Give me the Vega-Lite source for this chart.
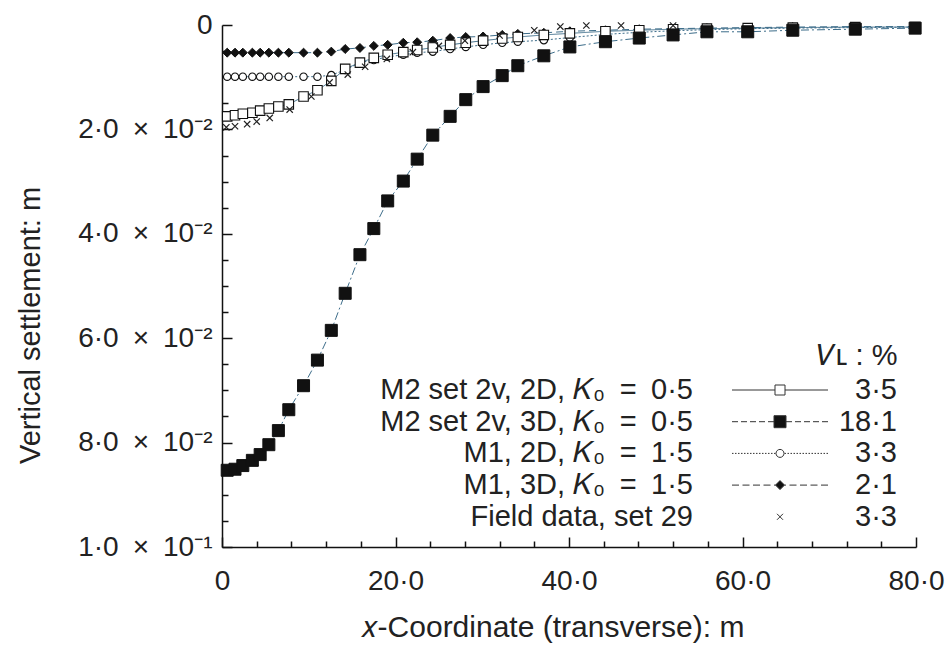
{
  "$schema": "https://vega.github.io/schema/vega-lite/v6.json",
  "width": 694,
  "height": 522,
  "autosize": {"type": "none"},
  "padding": {"left": 222, "top": 25, "right": 32, "bottom": 99},
  "background": "white",
  "config": {
    "view": {"stroke": null},
    "font": "Liberation Sans",
    "axis": {
      "grid": false,
      "domainColor": "#111",
      "domainWidth": 1.5,
      "tickColor": "#111",
      "tickWidth": 1.5,
      "labelFont": "Liberation Sans",
      "labelFontSize": 28,
      "labelColor": "#222",
      "labelFlush": false,
      "labelOverlap": false,
      "titleFont": "Liberation Sans",
      "titleFontSize": 30,
      "titleFontWeight": "normal",
      "titleColor": "#222"
    }
  },
  "resolve": {"axis": {"x": "independent", "y": "independent"}},
  "datasets": {
    "main": [
      {"series": "M2 3D", "x": 0.6, "y": 0.0853}, {"series": "M2 3D", "x": 1.5, "y": 0.0851}, {"series": "M2 3D", "x": 2.4, "y": 0.0844}, {"series": "M2 3D", "x": 3.5, "y": 0.0834}, {"series": "M2 3D", "x": 4.4, "y": 0.0823}, {"series": "M2 3D", "x": 5.4, "y": 0.0804}, {"series": "M2 3D", "x": 6.5, "y": 0.0777}, {"series": "M2 3D", "x": 7.7, "y": 0.0737}, {"series": "M2 3D", "x": 9.4, "y": 0.0691}, {"series": "M2 3D", "x": 11.0, "y": 0.0642}, {"series": "M2 3D", "x": 12.6, "y": 0.0585}, {"series": "M2 3D", "x": 14.2, "y": 0.0514}, {"series": "M2 3D", "x": 15.9, "y": 0.044}, {"series": "M2 3D", "x": 17.5, "y": 0.039}, {"series": "M2 3D", "x": 19.1, "y": 0.0337}, {"series": "M2 3D", "x": 20.9, "y": 0.0299}, {"series": "M2 3D", "x": 22.5, "y": 0.0257}, {"series": "M2 3D", "x": 24.3, "y": 0.0211}, {"series": "M2 3D", "x": 26.3, "y": 0.0175}, {"series": "M2 3D", "x": 28.1, "y": 0.0143}, {"series": "M2 3D", "x": 30.1, "y": 0.0118}, {"series": "M2 3D", "x": 32.3, "y": 0.0097}, {"series": "M2 3D", "x": 34.1, "y": 0.0078}, {"series": "M2 3D", "x": 37.1, "y": 0.0059}, {"series": "M2 3D", "x": 40.1, "y": 0.0042}, {"series": "M2 3D", "x": 44.2, "y": 0.0032}, {"series": "M2 3D", "x": 48.1, "y": 0.0025}, {"series": "M2 3D", "x": 52.0, "y": 0.0019}, {"series": "M2 3D", "x": 55.9, "y": 0.0013}, {"series": "M2 3D", "x": 60.6, "y": 0.0013}, {"series": "M2 3D", "x": 65.8, "y": 0.001}, {"series": "M2 3D", "x": 73.0, "y": 0.0008}, {"series": "M2 3D", "x": 79.9, "y": 0.0006},
      {"series": "M2 2D", "x": 0.6, "y": 0.0175}, {"series": "M2 2D", "x": 1.5, "y": 0.0173}, {"series": "M2 2D", "x": 2.4, "y": 0.017}, {"series": "M2 2D", "x": 3.5, "y": 0.0168}, {"series": "M2 2D", "x": 4.4, "y": 0.0164}, {"series": "M2 2D", "x": 5.4, "y": 0.016}, {"series": "M2 2D", "x": 6.5, "y": 0.0156}, {"series": "M2 2D", "x": 7.7, "y": 0.0152}, {"series": "M2 2D", "x": 9.4, "y": 0.0137}, {"series": "M2 2D", "x": 11.0, "y": 0.0125}, {"series": "M2 2D", "x": 12.6, "y": 0.0107}, {"series": "M2 2D", "x": 14.2, "y": 0.0084}, {"series": "M2 2D", "x": 15.9, "y": 0.0072}, {"series": "M2 2D", "x": 17.5, "y": 0.0063}, {"series": "M2 2D", "x": 19.1, "y": 0.0057}, {"series": "M2 2D", "x": 20.9, "y": 0.0052}, {"series": "M2 2D", "x": 22.5, "y": 0.0048}, {"series": "M2 2D", "x": 24.3, "y": 0.0043}, {"series": "M2 2D", "x": 26.3, "y": 0.0038}, {"series": "M2 2D", "x": 28.1, "y": 0.0034}, {"series": "M2 2D", "x": 30.1, "y": 0.003}, {"series": "M2 2D", "x": 32.3, "y": 0.0026}, {"series": "M2 2D", "x": 34.1, "y": 0.0023}, {"series": "M2 2D", "x": 37.1, "y": 0.0019}, {"series": "M2 2D", "x": 40.1, "y": 0.0016}, {"series": "M2 2D", "x": 44.2, "y": 0.0012}, {"series": "M2 2D", "x": 48.1, "y": 0.001}, {"series": "M2 2D", "x": 52.0, "y": 0.0008}, {"series": "M2 2D", "x": 55.9, "y": 0.0007}, {"series": "M2 2D", "x": 60.6, "y": 0.0006}, {"series": "M2 2D", "x": 65.8, "y": 0.0005}, {"series": "M2 2D", "x": 73.0, "y": 0.0004}, {"series": "M2 2D", "x": 79.9, "y": 0.0004},
      {"series": "M1 2D", "x": 0.6, "y": 0.0099}, {"series": "M1 2D", "x": 1.5, "y": 0.0099}, {"series": "M1 2D", "x": 2.4, "y": 0.0099}, {"series": "M1 2D", "x": 3.5, "y": 0.0099}, {"series": "M1 2D", "x": 4.4, "y": 0.0099}, {"series": "M1 2D", "x": 5.4, "y": 0.0099}, {"series": "M1 2D", "x": 6.5, "y": 0.0099}, {"series": "M1 2D", "x": 7.7, "y": 0.0099}, {"series": "M1 2D", "x": 9.4, "y": 0.0099}, {"series": "M1 2D", "x": 11.0, "y": 0.0099}, {"series": "M1 2D", "x": 12.6, "y": 0.0096}, {"series": "M1 2D", "x": 14.2, "y": 0.0086}, {"series": "M1 2D", "x": 15.9, "y": 0.0072}, {"series": "M1 2D", "x": 17.5, "y": 0.0067}, {"series": "M1 2D", "x": 19.1, "y": 0.0061}, {"series": "M1 2D", "x": 20.9, "y": 0.0057}, {"series": "M1 2D", "x": 22.5, "y": 0.0053}, {"series": "M1 2D", "x": 24.3, "y": 0.0051}, {"series": "M1 2D", "x": 26.3, "y": 0.0046}, {"series": "M1 2D", "x": 28.1, "y": 0.0042}, {"series": "M1 2D", "x": 30.1, "y": 0.0038}, {"series": "M1 2D", "x": 32.3, "y": 0.0034}, {"series": "M1 2D", "x": 34.1, "y": 0.0032}, {"series": "M1 2D", "x": 37.1, "y": 0.0029}, {"series": "M1 2D", "x": 40.1, "y": 0.0024}, {"series": "M1 2D", "x": 44.2, "y": 0.0018}, {"series": "M1 2D", "x": 48.1, "y": 0.0014}, {"series": "M1 2D", "x": 52.0, "y": 0.0011}, {"series": "M1 2D", "x": 55.9, "y": 0.0009}, {"series": "M1 2D", "x": 60.6, "y": 0.0007}, {"series": "M1 2D", "x": 65.8, "y": 0.0006}, {"series": "M1 2D", "x": 73.0, "y": 0.0005}, {"series": "M1 2D", "x": 79.9, "y": 0.0004},
      {"series": "M1 3D", "x": 0.6, "y": 0.0053}, {"series": "M1 3D", "x": 1.5, "y": 0.0053}, {"series": "M1 3D", "x": 2.4, "y": 0.0053}, {"series": "M1 3D", "x": 3.5, "y": 0.0053}, {"series": "M1 3D", "x": 4.4, "y": 0.0053}, {"series": "M1 3D", "x": 5.4, "y": 0.0053}, {"series": "M1 3D", "x": 6.5, "y": 0.0053}, {"series": "M1 3D", "x": 7.7, "y": 0.0053}, {"series": "M1 3D", "x": 9.4, "y": 0.0053}, {"series": "M1 3D", "x": 11.0, "y": 0.0053}, {"series": "M1 3D", "x": 12.6, "y": 0.0051}, {"series": "M1 3D", "x": 14.2, "y": 0.0046}, {"series": "M1 3D", "x": 15.9, "y": 0.0044}, {"series": "M1 3D", "x": 17.5, "y": 0.004}, {"series": "M1 3D", "x": 19.1, "y": 0.0038}, {"series": "M1 3D", "x": 20.9, "y": 0.0034}, {"series": "M1 3D", "x": 22.5, "y": 0.0033}, {"series": "M1 3D", "x": 24.3, "y": 0.003}, {"series": "M1 3D", "x": 26.3, "y": 0.0025}, {"series": "M1 3D", "x": 28.1, "y": 0.0023}, {"series": "M1 3D", "x": 30.1, "y": 0.0022}, {"series": "M1 3D", "x": 32.3, "y": 0.0019}, {"series": "M1 3D", "x": 34.1, "y": 0.0017}, {"series": "M1 3D", "x": 37.1, "y": 0.0015}, {"series": "M1 3D", "x": 40.1, "y": 0.0012}, {"series": "M1 3D", "x": 44.2, "y": 0.001}, {"series": "M1 3D", "x": 48.1, "y": 0.0008}, {"series": "M1 3D", "x": 52.0, "y": 0.0007}, {"series": "M1 3D", "x": 55.9, "y": 0.0006}, {"series": "M1 3D", "x": 60.6, "y": 0.0005}, {"series": "M1 3D", "x": 65.8, "y": 0.0004}, {"series": "M1 3D", "x": 73.0, "y": 0.0003}, {"series": "M1 3D", "x": 79.9, "y": 0.0003},
      {"series": "Field", "x": 0.5, "y": 0.0196}, {"series": "Field", "x": 1.5, "y": 0.0194}, {"series": "Field", "x": 2.9, "y": 0.019}, {"series": "Field", "x": 4.0, "y": 0.0185}, {"series": "Field", "x": 5.5, "y": 0.0178}, {"series": "Field", "x": 7.8, "y": 0.0162}, {"series": "Field", "x": 10.3, "y": 0.0137}, {"series": "Field", "x": 12.4, "y": 0.011}, {"series": "Field", "x": 14.5, "y": 0.0095}, {"series": "Field", "x": 16.5, "y": 0.008}, {"series": "Field", "x": 19.0, "y": 0.0065}, {"series": "Field", "x": 22.0, "y": 0.0052}, {"series": "Field", "x": 25.0, "y": 0.004}, {"series": "Field", "x": 28.0, "y": 0.003}, {"series": "Field", "x": 32.0, "y": 0.002}, {"series": "Field", "x": 36.0, "y": 0.001}, {"series": "Field", "x": 39.0, "y": 0.0003}, {"series": "Field", "x": 42.0, "y": 0.0001}, {"series": "Field", "x": 46.0, "y": 0.0001}, {"series": "Field", "x": 52.0, "y": 0.0001}
    ],
    "legend": [
      {"name": "M2 set 2v, 2D, 𝐾₀\u2002=\u20020·5", "vl": "3·5"},
      {"name": "M2 set 2v, 3D, 𝐾₀\u2002=\u20020·5", "vl": "18·1"},
      {"name": "M1, 2D, 𝐾₀\u2002=\u20021·5", "vl": "3·3"},
      {"name": "M1, 3D, 𝐾₀\u2002=\u20021·5", "vl": "2·1"},
      {"name": "Field data, set 29", "vl": "3·3"}
    ]
  },
  "encoding": {
    "x": {"field": "x", "type": "quantitative", "scale": {"domain": [0, 80], "nice": false, "zero": false}, "axis": null},
    "y": {"field": "y", "type": "quantitative", "scale": {"domain": [0, 0.1], "reverse": true, "nice": false, "zero": false}, "axis": null}
  },
  "layer": [
    {
      "data": {"name": "main"},
      "transform": [{"filter": "datum.series !== 'Field'"}],
      "mark": {"type": "line", "color": "#3d6d8a", "strokeWidth": 1},
      "encoding": {
        "x": {
          "field": "x", "type": "quantitative",
          "scale": {"domain": [0, 80], "nice": false, "zero": false},
          "axis": {
            "orient": "bottom",
            "title": "𝑥-Coordinate (transverse): m",
            "values": [0, 20, 40, 60, 80],
            "labelExpr": "datum.value === 0 ? '0' : datum.value + '·0'",
            "ticks": false,
            "labelPadding": 20,
            "titleX": 330,
            "titleY": 80,
            "titleBaseline": "middle"
          }
        },
        "y": {
          "field": "y", "type": "quantitative",
          "scale": {"domain": [0, 0.1], "reverse": true, "nice": false, "zero": false},
          "axis": {
            "orient": "left",
            "title": "Vertical settlement: m",
            "titleFontSize": 29,
            "values": [0, 0.02, 0.04, 0.06, 0.08, 0.1],
            "labelExpr": "datum.value < 0.001 ? '0' : (datum.value > 0.099 ? '1·0\u2002×\u200210⁻¹' : round(datum.value * 100) + '·0\u2002×\u200210⁻²')",
            "ticks": false,
            "labelPadding": 10,
            "titleX": -192,
            "titleY": 300,
            "titleBaseline": "middle"
          }
        },
        "strokeDash": {
          "field": "series", "type": "nominal",
          "scale": {"domain": ["M2 2D", "M2 3D", "M1 2D", "M1 3D"], "range": [[1, 0], [8, 3, 2, 3], [2, 2], [7, 4]]},
          "legend": null
        }
      }
    },
    {
      "data": {"name": "main"},
      "transform": [{"filter": "datum.series === 'M1 3D'"}],
      "mark": {"type": "point", "shape": "diamond", "size": 80, "filled": true, "fill": "#111", "stroke": "#111", "strokeWidth": 1, "opacity": 1},
      "encoding": {
        "x": {
          "field": "x", "type": "quantitative",
          "scale": {"domain": [0, 80], "nice": false, "zero": false},
          "axis": {"orient": "bottom", "title": null, "labels": false, "domain": false, "ticks": true, "tickSize": 10, "offset": -10, "values": [0, 20, 40, 60, 80]}
        },
        "y": {
          "field": "y", "type": "quantitative",
          "scale": {"domain": [0, 0.1], "reverse": true, "nice": false, "zero": false},
          "axis": {"orient": "left", "title": null, "labels": false, "domain": false, "ticks": true, "tickSize": 10, "offset": -10, "values": [0, 0.02, 0.04, 0.06, 0.08, 0.1]}
        }
      }
    },
    {
      "data": {"name": "main"},
      "transform": [{"filter": "datum.series === 'M1 2D'"}],
      "mark": {"type": "point", "shape": "circle", "size": 55, "filled": true, "fill": "white", "stroke": "#111", "strokeWidth": 1.1, "opacity": 1},
      "encoding": {
        "x": {
          "field": "x", "type": "quantitative",
          "scale": {"domain": [0, 80], "nice": false, "zero": false},
          "axis": {"orient": "bottom", "title": null, "labels": false, "domain": false, "ticks": true, "tickSize": 6, "offset": -6, "values": [4, 8, 12, 16, 24, 28, 32, 36, 44, 48, 52, 56, 64, 68, 72, 76]}
        },
        "y": {
          "field": "y", "type": "quantitative",
          "scale": {"domain": [0, 0.1], "reverse": true, "nice": false, "zero": false},
          "axis": {"orient": "left", "title": null, "labels": false, "domain": false, "ticks": true, "tickSize": 6, "offset": -6, "values": [0.005, 0.01, 0.015, 0.025, 0.03, 0.035, 0.045, 0.05, 0.055, 0.065, 0.07, 0.075, 0.085, 0.09, 0.095]}
        }
      }
    },
    {
      "data": {"name": "main"},
      "transform": [{"filter": "datum.series === 'M2 2D'"}],
      "mark": {"type": "point", "shape": "square", "size": 90, "filled": true, "fill": "white", "stroke": "#111", "strokeWidth": 1.1, "opacity": 1}
    },
    {
      "data": {"name": "main"},
      "transform": [{"filter": "datum.series === 'Field'"}],
      "mark": {"type": "point", "shape": "M-1,-1L1,1M-1,1L1,-1", "size": 40, "filled": false, "stroke": "#222", "strokeWidth": 1.2, "opacity": 1}
    },
    {
      "data": {"name": "main"},
      "transform": [{"filter": "datum.series === 'M2 3D'"}],
      "mark": {"type": "point", "shape": "square", "size": 144, "filled": true, "fill": "#111", "stroke": "#111", "strokeWidth": 1, "opacity": 1}
    },
    {
      "data": {"name": "legend"},
      "mark": {"type": "point", "opacity": 0},
      "encoding": {
        "x": null, "y": null,
        "color": {
          "field": "name", "type": "nominal",
          "sort": ["M2 set 2v, 2D, 𝐾₀\u2002=\u20020·5", "M2 set 2v, 3D, 𝐾₀\u2002=\u20020·5", "M1, 2D, 𝐾₀\u2002=\u20021·5", "M1, 3D, 𝐾₀\u2002=\u20021·5", "Field data, set 29"],
          "legend": {
            "orient": "none", "legendX": 442, "legendY": 350.5, "padding": 0,
            "title": null, "symbolOpacity": 0, "symbolSize": 1,
            "labelAlign": "right", "labelOffset": 0, "labelLimit": 0,
            "labelFont": "Liberation Sans", "labelFontSize": 29, "labelColor": "#222",
            "rowPadding": 1.7
          }
        }
      }
    },
    {
      "data": {"name": "legend"},
      "mark": {"type": "point", "opacity": 0, "filled": false, "strokeWidth": 1},
      "encoding": {
        "x": null, "y": null,
        "fill": {
          "field": "name", "type": "nominal",
          "scale": {
            "domain": ["M2 set 2v, 2D, 𝐾₀\u2002=\u20020·5", "M2 set 2v, 3D, 𝐾₀\u2002=\u20020·5", "M1, 2D, 𝐾₀\u2002=\u20021·5", "M1, 3D, 𝐾₀\u2002=\u20021·5", "Field data, set 29"],
            "range": ["white", "#111", "white", "#111", "white"]
          },
          "legend": {
            "orient": "none", "legendX": 543.5, "legendY": 316.5, "padding": 0,
            "title": "𝑉ʟ : %", "titleFont": "Liberation Sans", "titleFontSize": 29, "titleFontWeight": "normal", "titleColor": "#222",
            "titleAnchor": "end", "titlePadding": 5,
            "symbolSize": 100, "symbolStrokeWidth": 1, "symbolOpacity": 1,
            "labelExpr": "['3·5', '18·1', '3·3', '2·1', '3·3'][datum.index]",
            "labelAlign": "right", "labelOffset": 102.5, "labelLimit": 0,
            "labelFont": "Liberation Sans", "labelFontSize": 29, "labelColor": "#222",
            "rowPadding": 1.7
          }
        },
        "stroke": {
          "field": "name", "type": "nominal",
          "scale": {
            "domain": ["M2 set 2v, 2D, 𝐾₀\u2002=\u20020·5", "M2 set 2v, 3D, 𝐾₀\u2002=\u20020·5", "M1, 2D, 𝐾₀\u2002=\u20021·5", "M1, 3D, 𝐾₀\u2002=\u20021·5", "Field data, set 29"],
            "range": ["#333", "#333", "#333", "#333", "#333"]
          },
          "legend": {
            "orient": "none", "legendX": 543.5, "legendY": 316.5, "padding": 0,
            "title": "𝑉ʟ : %", "titleFont": "Liberation Sans", "titleFontSize": 29, "titleFontWeight": "normal", "titleColor": "#222",
            "titleAnchor": "end", "titlePadding": 5,
            "symbolSize": 100, "symbolStrokeWidth": 1, "symbolOpacity": 1,
            "labelExpr": "['3·5', '18·1', '3·3', '2·1', '3·3'][datum.index]",
            "labelAlign": "right", "labelOffset": 102.5, "labelLimit": 0,
            "labelFont": "Liberation Sans", "labelFontSize": 29, "labelColor": "#222",
            "rowPadding": 1.7
          }
        },
        "shape": {
          "field": "name", "type": "nominal",
          "scale": {
            "domain": ["M2 set 2v, 2D, 𝐾₀\u2002=\u20020·5", "M2 set 2v, 3D, 𝐾₀\u2002=\u20020·5", "M1, 2D, 𝐾₀\u2002=\u20021·5", "M1, 3D, 𝐾₀\u2002=\u20021·5", "Field data, set 29"],
            "range": [
              "M-9.6,0H-1M1,0H9.6M-1,-1H1V1H-1Z",
              "M-9.6,0H-8.4M-7.8,0H-6.6M-6,0H-4.8M-4.2,0H-3M-2.4,0H-1.2M1.2,0H2.4M3,0H4.2M4.8,0H6M6.6,0H7.8M8.4,0H9.6M-1.2,-1.2H1.2V1.2H-1.2Z",
              "M-9.6,0h0.3M-9,0h0.3M-8.4,0h0.3M-7.8,0h0.3M-7.2,0h0.3M-6.6,0h0.3M-6,0h0.3M-5.4,0h0.3M-4.8,0h0.3M-4.2,0h0.3M-3.6,0h0.3M-3,0h0.3M-2.4,0h0.3M-1.8,0h0.3M-1.2,0h0.3M0.9,0h0.3M1.5,0h0.3M2.1,0h0.3M2.7,0h0.3M3.3,0h0.3M3.9,0h0.3M4.5,0h0.3M5.1,0h0.3M5.7,0h0.3M6.3,0h0.3M6.9,0h0.3M7.5,0h0.3M8.1,0h0.3M8.7,0h0.3M9.3,0h0.3M-0.8,0A0.8,0.8 0 1,0 0.8,0A0.8,0.8 0 1,0 -0.8,0Z",
              "M-9.6,0H-8.2M-7.5,0H-6.1M-5.4,0H-4M-3.3,0H-1.9M-1.2,0H-0.9M0.9,0H1.2M1.9,0H3.3M4,0H5.4M6.1,0H7.5M8.2,0H9.6M0,-0.9L0.9,0L0,0.9L-0.9,0Z",
              "M-0.6,-0.6L0.6,0.6M-0.6,0.6L0.6,-0.6"
            ]
          },
          "legend": {
            "orient": "none", "legendX": 543.5, "legendY": 316.5, "padding": 0,
            "title": "𝑉ʟ : %", "titleFont": "Liberation Sans", "titleFontSize": 29, "titleFontWeight": "normal", "titleColor": "#222",
            "titleAnchor": "end", "titlePadding": 5,
            "symbolSize": 100, "symbolStrokeWidth": 1, "symbolOpacity": 1,
            "labelExpr": "['3·5', '18·1', '3·3', '2·1', '3·3'][datum.index]",
            "labelAlign": "right", "labelOffset": 102.5, "labelLimit": 0,
            "labelFont": "Liberation Sans", "labelFontSize": 29, "labelColor": "#222",
            "rowPadding": 1.7
          }
        }
      }
    }
  ]
}
